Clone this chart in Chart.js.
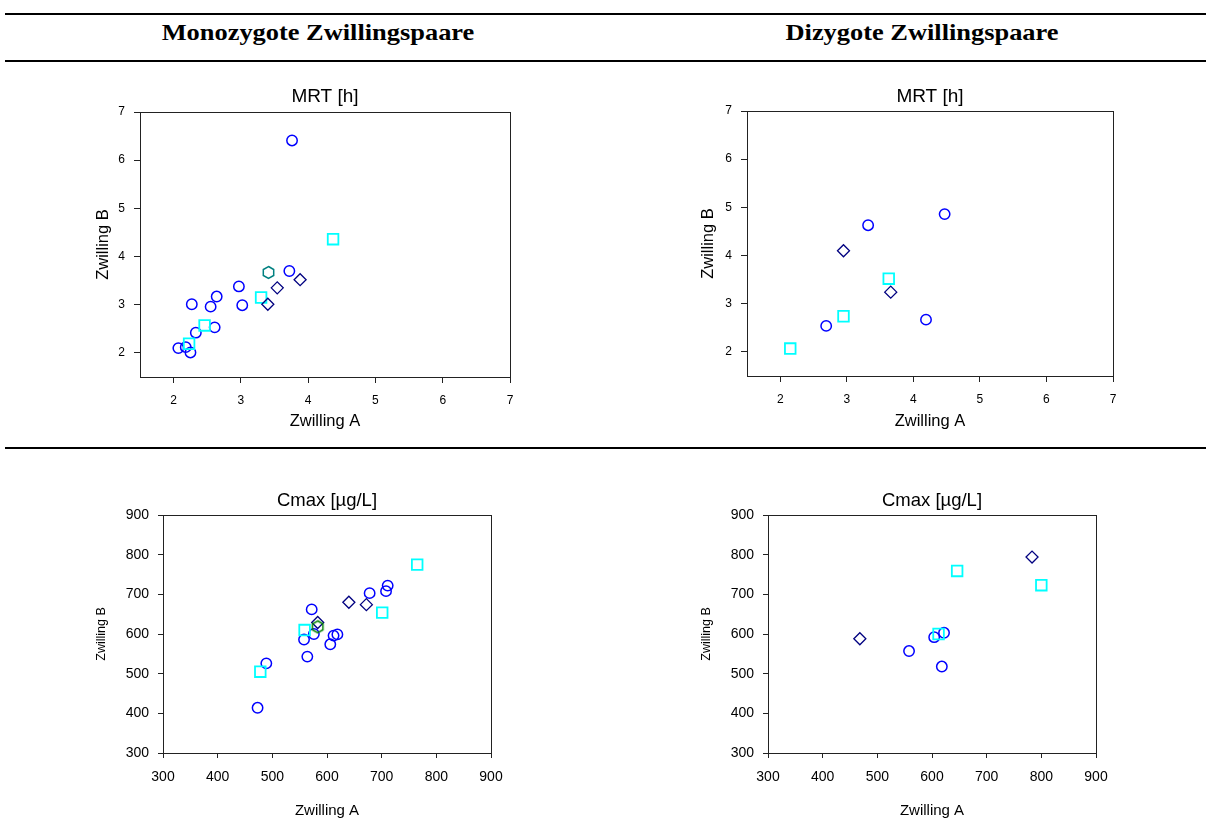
<!DOCTYPE html>
<html><head><meta charset="utf-8">
<script src="https://cdn.jsdelivr.net/npm/chart.js@4.4.1/dist/chart.umd.min.js"></script>
<style>
html,body{margin:0;padding:0;}
body{width:1206px;height:826px;background:#fff;position:relative;overflow:hidden;font-family:"Liberation Sans",Arial,sans-serif;}
.rule{position:absolute;left:5px;width:1201px;height:2px;background:#000;}
.head{position:absolute;top:17px;height:30px;line-height:30px;width:500px;text-align:center;font-family:"Liberation Serif","Times New Roman",serif;font-weight:bold;font-size:24px;color:#000;transform:scaleX(1.1);}
canvas{position:absolute;}
</style></head>
<body>
<div class="rule" style="top:13px"></div>
<div class="rule" style="top:60px"></div>
<div class="rule" style="top:447px"></div>
<div class="head" style="left:68px">Monozygote Zwillingspaare</div>
<div class="head" style="left:672px">Dizygote Zwillingspaare</div>
<script>
// ---- data ----
const mrtTicks = [2, 3, 4, 5, 6, 7];
const cmaxTicks = [300, 400, 500, 600, 700, 800, 900];

const mrtMonoCircles = [[3.76,6.41],[3.72,3.70],[2.97,3.38],[2.64,3.17],[2.27,3.01],[2.55,2.96],[3.02,2.99],[2.61,2.53],[2.33,2.42],[2.07,2.10],[2.18,2.12],[2.25,2.01]];
const mrtMonoSquares = [[4.37,4.36],[3.30,3.15],[2.46,2.57],[2.23,2.19]];
const mrtMonoDiamonds = [[3.88,3.52],[3.54,3.35],[3.40,3.01]];
const mrtMonoHexagons = [[3.41,3.67]];

const mrtDiCircles = [[3.32,4.63],[4.47,4.86],[2.69,2.54],[4.19,2.67]];
const mrtDiSquares = [[3.63,3.52],[2.95,2.74],[2.15,2.07]];
const mrtDiDiamonds = [[2.95,4.10],[3.66,3.24]];

const cmaxMonoCircles = [[473,414],[489,526],[572,662],[558,586],[576,600],[564,543],[606,574],[612,596],[619,599],[678,703],[708,708],[711,722]];
const cmaxMonoSquares = [[765,775],[701,654],[559,610],[478,505]];
const cmaxMonoDiamonds = [[640,680],[672,674],[583,629]];
const cmaxMonoHexagons = [[583,618]];

const cmaxDiCircles = [[558,557],[604,592],[622,603],[618,518]];
const cmaxDiSquares = [[646,759],[800,723],[612,600]];
const cmaxDiDiamonds = [[468,588],[783,794]];

// ---- drawing ----
Chart.defaults.font.family = "'Liberation Sans', Arial, sans-serif";

function hexagon(color){
  const c = document.createElement('canvas'); c.width = 15; c.height = 15;
  const g = c.getContext('2d'); g.strokeStyle = color; g.lineWidth = 1.5;
  g.beginPath();
  for (let k = 0; k < 6; k++) {
    const a = -Math.PI/2 + k*Math.PI/3;
    const px = 7.5 + 6*Math.cos(a), py = 7.5 + 6*Math.sin(a);
    if (k) g.lineTo(px, py); else g.moveTo(px, py);
  }
  g.closePath(); g.stroke();
  return c;
}
const pts = a => a.map(p => ({x: p[0], y: p[1]}));
function series(circles, squares, diamonds, hexagons, hexColor){
  const ds = [];
  if (hexagons) ds.push({data: pts(hexagons), pointStyle: hexagon(hexColor), pointRadius: 6, borderColor: hexColor, backgroundColor: 'rgba(0,0,0,0)'});
  ds.push({data: pts(diamonds), pointStyle: 'rectRot', pointRadius: 6, borderColor: '#000080', backgroundColor: 'rgba(0,0,0,0)', pointBorderWidth: 1.3});
  ds.push({data: pts(squares), pointStyle: 'rect', pointRadius: 7.5, borderColor: '#00FFFF', backgroundColor: 'rgba(0,0,0,0)', pointBorderWidth: 1.8});
  ds.push({data: pts(circles), pointStyle: 'circle', pointRadius: 5.2, borderColor: '#0000FF', backgroundColor: 'rgba(0,0,0,0)', pointBorderWidth: 1.5});
  return ds;
}

const frame = {
  id: 'frame',
  beforeDatasetsDraw(chart){
    const a = chart.chartArea, c = chart.ctx;
    c.save(); c.strokeStyle = '#222'; c.lineWidth = 1;
    c.strokeRect(Math.round(a.left)+0.5, Math.round(a.top)+0.5, Math.round(a.right-a.left), Math.round(a.bottom-a.top));
    c.restore();
  }
};

function build(geo, text, ticks, range, datasets){
  const pad = {l: 110, t: 55, r: 30, b: 80};
  const cw = geo.r - geo.l + pad.l + pad.r, ch = geo.b - geo.t + pad.t + pad.b;
  const cx = geo.l - pad.l, cy = geo.t - pad.t;
  const cv = document.createElement('canvas');
  cv.width = cw; cv.height = ch;
  cv.style.left = cx + 'px'; cv.style.top = cy + 'px';
  cv.style.width = cw + 'px'; cv.style.height = ch + 'px';
  document.body.appendChild(cv);
  const tLH = geo.titleSize * 1.2;
  const tTop = (geo.titleY - cy) - tLH/2;
  new Chart(cv, {
    type: 'scatter',
    data: {datasets},
    options: {
      responsive: false, animation: false, devicePixelRatio: 1,
      layout: {padding: {left: 0, right: pad.r, top: 0, bottom: 0}, autoPadding: false},
      plugins: {
        legend: {display: false}, tooltip: {enabled: false},
        title: {display: true, text: text.title, fullSize: false, color: '#000',
          font: {size: geo.titleSize, weight: 'normal'},
          padding: {top: tTop, bottom: pad.t - tTop - tLH}}
      },
      scales: {
        x: {type: 'linear', min: range.x[0], max: range.x[1],
          afterBuildTicks: s => { s.ticks = ticks.map(v => ({value: v})); },
          afterFit: s => { s.height = pad.b; },
          grid: {drawOnChartArea: false, drawTicks: true, tickLength: geo.tl, color: '#222'},
          border: {display: false},
          ticks: {padding: geo.xPad, color: '#000', font: {size: geo.tickSize}, maxRotation: 0, autoSkip: false},
          title: {display: true, text: text.x, color: '#000', font: {size: geo.xTitleSize},
            padding: {top: 0, bottom: (cy + ch) - geo.xTitleY - geo.xTitleSize*0.6}}},
        y: {type: 'linear', min: range.y[0], max: range.y[1],
          afterBuildTicks: s => { s.ticks = ticks.map(v => ({value: v})); },
          afterFit: s => { s.width = pad.l; },
          grid: {drawOnChartArea: false, drawTicks: true, tickLength: geo.tl, color: '#222'},
          border: {display: false},
          ticks: {padding: geo.yPad, color: '#000', font: {size: geo.tickSize}, autoSkip: false},
          title: {display: true, text: text.y, color: '#000', font: {size: geo.yTitleSize},
            padding: {top: geo.yTitleX - cx - geo.yTitleSize*0.6, bottom: 0}}}
      }
    },
    plugins: [frame]
  });
}

const mrtRange = {x: [1.5, 7], y: [1.5, 7]};
const cmaxRange = {x: [300, 900], y: [300, 900]};

build({l:140,t:112,r:510,b:377, titleY:97, titleSize:19, xTitleY:421.5, xTitleSize:16.5, yTitleX:103.5, yTitleSize:16.5, tickSize:12, tl:6, yPad:9, xPad:10.5},
  {title:'MRT [h]', x:'Zwilling A', y:'Zwilling B'}, mrtTicks, mrtRange,
  series(mrtMonoCircles, mrtMonoSquares, mrtMonoDiamonds, mrtMonoHexagons, '#008080'));
build({l:747,t:111,r:1113,b:376, titleY:97, titleSize:19, xTitleY:421.5, xTitleSize:16.5, yTitleX:708, yTitleSize:16.5, tickSize:12, tl:6, yPad:9, xPad:10.5},
  {title:'MRT [h]', x:'Zwilling A', y:'Zwilling B'}, mrtTicks, mrtRange,
  series(mrtDiCircles, mrtDiSquares, mrtDiDiamonds, null, null));
build({l:163,t:515,r:491,b:753, titleY:501, titleSize:18.5, xTitleY:811, xTitleSize:15, yTitleX:101.7, yTitleSize:12.5, tickSize:14, tl:5, yPad:9, xPad:11},
  {title:'Cmax [µg/L]', x:'Zwilling A', y:'Zwilling B'}, cmaxTicks, cmaxRange,
  series(cmaxMonoCircles, cmaxMonoSquares, cmaxMonoDiamonds, cmaxMonoHexagons, '#008000'));
build({l:768,t:515,r:1096,b:753, titleY:501, titleSize:18.5, xTitleY:811, xTitleSize:15, yTitleX:707, yTitleSize:12.5, tickSize:14, tl:5, yPad:9, xPad:11},
  {title:'Cmax [µg/L]', x:'Zwilling A', y:'Zwilling B'}, cmaxTicks, cmaxRange,
  series(cmaxDiCircles, cmaxDiSquares, cmaxDiDiamonds, null, null));
</script>
</body></html>
